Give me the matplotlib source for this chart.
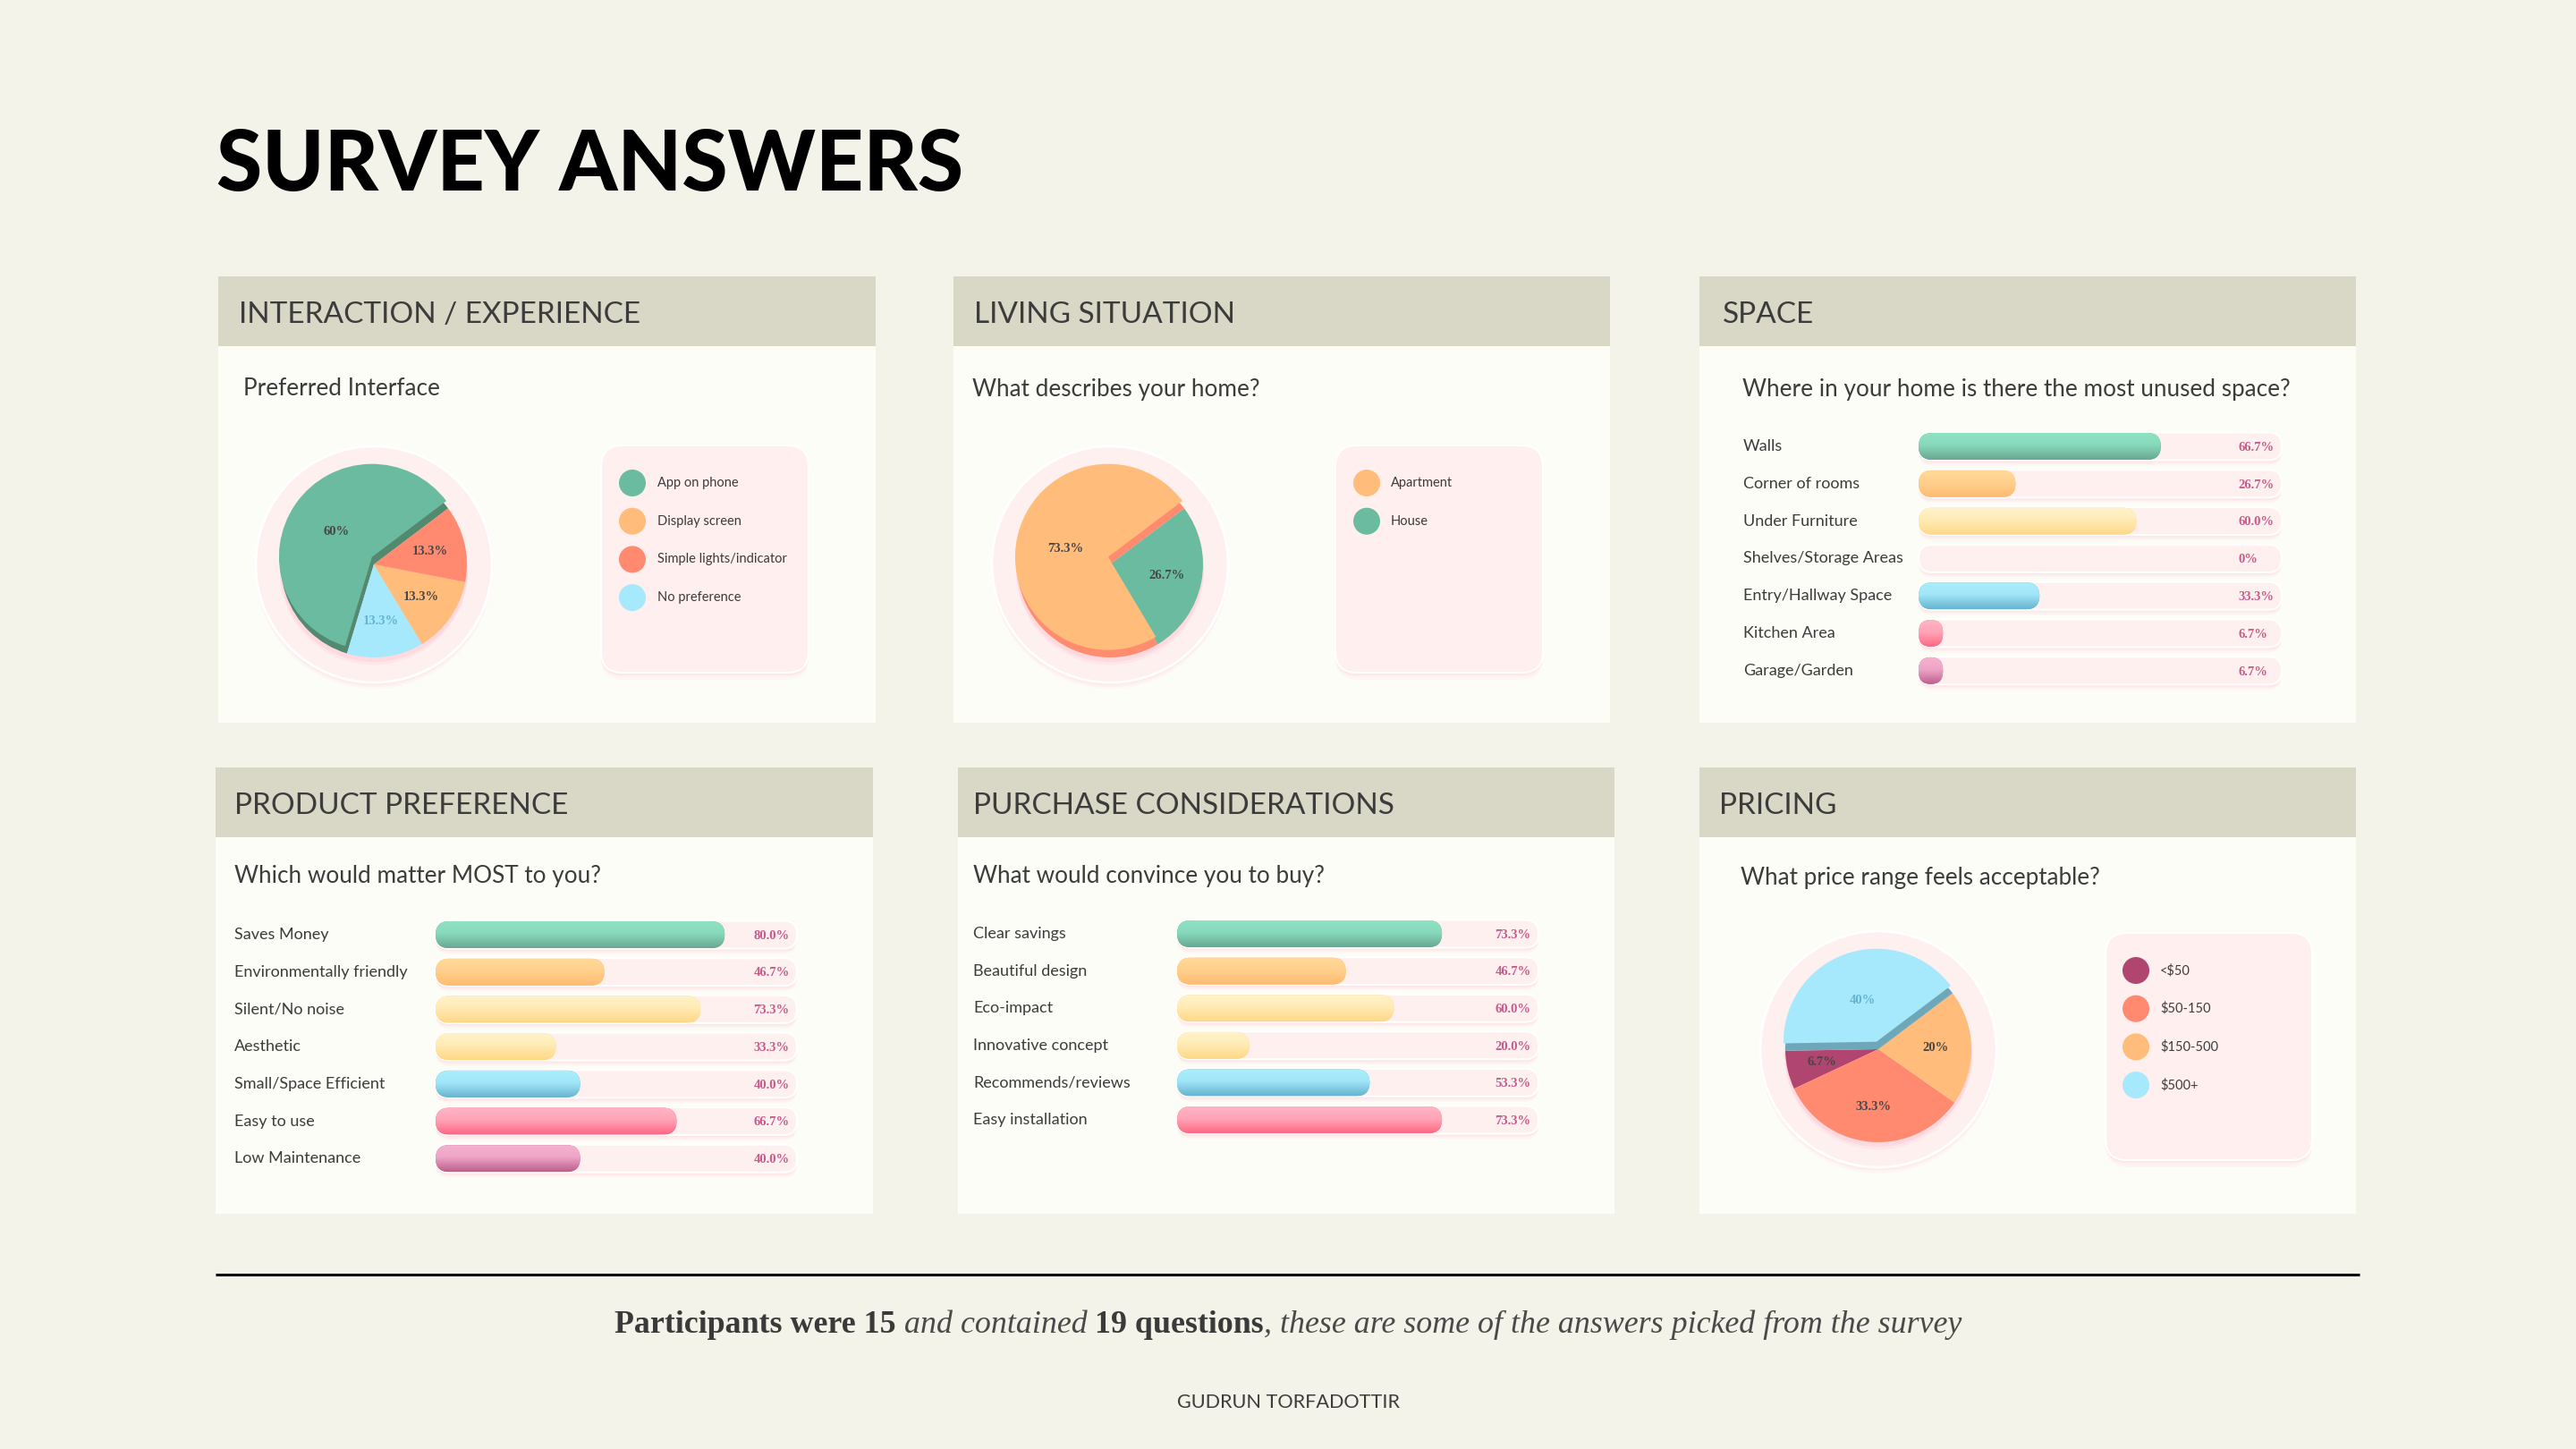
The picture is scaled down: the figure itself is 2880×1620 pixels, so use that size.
import numpy as np
import matplotlib
matplotlib.use('Agg')
import matplotlib.pyplot as plt
from matplotlib import transforms
from matplotlib.colors import LinearSegmentedColormap
from matplotlib.patches import Rectangle, Circle, Wedge, FancyBboxPatch

W, H = 2880, 1620

# ---- survey data ----
interface_labels = ['App on phone', 'Display screen', 'Simple lights/indicator', 'No preference']
interface_values = [60, 13.3, 13.3, 13.3]

home_labels = ['Apartment', 'House']
home_values = [73.3, 26.7]

space_labels = ['Walls', 'Corner of rooms', 'Under Furniture', 'Shelves/Storage Areas',
                'Entry/Hallway Space', 'Kitchen Area', 'Garage/Garden']
space_values = [66.7, 26.7, 60.0, 0, 33.3, 6.7, 6.7]

product_labels = ['Saves Money', 'Environmentally friendly', 'Silent/No noise', 'Aesthetic',
                  'Small/Space Efficient', 'Easy to use', 'Low Maintenance']
product_values = [80.0, 46.7, 73.3, 33.3, 40.0, 66.7, 40.0]

purchase_labels = ['Clear savings', 'Beautiful design', 'Eco-impact', 'Innovative concept',
                   'Recommends/reviews', 'Easy installation']
purchase_values = [73.3, 46.7, 60.0, 20.0, 53.3, 73.3]

price_labels = ['<$50', '$50-150', '$150-500', '$500+']
price_values = [6.7, 33.3, 20, 40]

# ---- style ----
BG = '#f4f3e9'
PANEL = '#fdfdf7'
HEAD = '#d9d8c6'
INK = '#3c3c3c'
GREEN, ORANGE, SALMON, SKY, PLUM = '#6bbba0', '#ffbc7a', '#ff8a70', '#a6e9fc', '#b0456f'
SANS = 'Lato'
SERIF = 'Liberation Serif'

BAR_SHADES = {
    'green': ['#90e2c5', '#86d9bb', '#6aa893'],
    'orange': ['#ffd99a', '#ffd08c', '#ffbb72'],
    'yellow': ['#fff2c9', '#ffebb5', '#ffd886'],
    'blue': ['#aaeefd', '#a0e6f8', '#68b5d0'],
    'pink': ['#ffb4c4', '#ffa5b8', '#ff6884'],
    'magenta': ['#f5b2d0', '#eea4c6', '#bd5f8c'],
}
BAR_ORDER = ['green', 'orange', 'yellow', 'yellow', 'blue', 'pink', 'magenta']

fig = plt.figure(figsize=(W / 100, H / 100), dpi=100, facecolor=BG)
bg = fig.add_axes([0, 0, 1, 1])
bg.set_xlim(0, W)
bg.set_ylim(H, 0)
bg.axis('off')


def px_axes(x0, y0, x1, y1):
    return fig.add_axes([x0 / W, 1 - y1 / H, (x1 - x0) / W, (y1 - y0) / H])


# title
bg.text(242, 186, 'SURVEY ANSWERS', fontsize=67, fontweight='black', family=SANS,
        color='black', va='center', ha='left')

# panels: x0, y0, x1, y1, header, header text x, question, question x, question y offset
panels = [
    (244, 309, 979, 808, 'INTERACTION / EXPERIENCE', 267, 'Preferred Interface', 272, 126),
    (1066, 309, 1800, 808, 'LIVING SITUATION', 1089, 'What describes your home?', 1087, 126),
    (1900, 309, 2634, 808, 'SPACE', 1926, 'Where in your home is there the most unused space?', 1948, 126),
    (241, 858, 976, 1357, 'PRODUCT PREFERENCE', 262, 'Which would matter MOST to you?', 262, 122),
    (1071, 858, 1805, 1357, 'PURCHASE CONSIDERATIONS', 1088, 'What would convince you to buy?', 1088, 122),
    (1900, 858, 2634, 1357, 'PRICING', 1922, 'What price range feels acceptable?', 1946, 123),
]
for x0, y0, x1, y1, head, hx, quest, qx, qdy in panels:
    bg.add_patch(Rectangle((x0, y0), x1 - x0, y1 - y0, fc=PANEL, ec='none'))
    bg.add_patch(Rectangle((x0, y0), x1 - x0, 78, fc=HEAD, ec='none'))
    bg.text(hx, y0 + 43, head, fontsize=24, family=SANS, color=INK, va='center')
    bg.text(qx, y0 + qdy, quest, fontsize=18.8, family=SANS, color=INK, va='center')


def pie_chart(cx, cy, values, colors, order, start, raised, side_color):
    r_px, half = 104, 142
    ax = px_axes(cx - half, cy - half, cx + half, cy + half)
    lim = half / r_px
    # halo ring with a soft pink shadow
    for dy, a in [(0.07, 0.08), (0.05, 0.10), (0.03, 0.14)]:
        ax.add_patch(Circle((0, -dy), 1.27, color='#ffc3d2', alpha=a, lw=0))
    ax.add_patch(Circle((0, 0), 1.27, fc='#fff0f0', ec='white', lw=2))
    for dy, a in [(0.07, 0.15), (0.04, 0.25)]:
        ax.add_patch(Circle((0, -dy), 1.01, color='#ffb3c6', alpha=a, lw=0))
    vals = [values[i] for i in order]
    cols = [colors[i] for i in order]
    wedges, _ = ax.pie(vals, colors=cols, startangle=start, counterclock=True,
                       radius=1, wedgeprops=dict(lw=0))
    shift = np.array([-0.02, 0.08])
    for w, v, c, idx in zip(wedges, vals, cols, order):
        mid = np.deg2rad((w.theta1 + w.theta2) / 2)
        dist = 0.62
        pos = np.array([np.cos(mid), np.sin(mid)])
        if idx == raised:
            w.set_facecolor(side_color)
            ax.add_patch(Wedge(tuple(shift), 1, w.theta1, w.theta2, fc=c, lw=0))
            dist = 0.47
            pos = pos * dist + shift
        else:
            pos = pos * dist
        tc = '#62b3d1' if c == SKY else '#474747'
        ax.text(pos[0], pos[1], f'{v:g}%', ha='center', va='center', fontsize=10.5,
                fontweight='bold', family=SERIF, color=tc, zorder=5)
    ax.set_xlim(-lim, lim)
    ax.set_ylim(-lim, lim)
    ax.set_aspect('equal')
    ax.axis('off')


def legend_box(x0, y0, x1, y1, labels, colors, dot_x, text_x, row_y0):
    for dy, a in [(8, 0.10), (5, 0.15), (3, 0.2)]:
        bg.add_patch(FancyBboxPatch((x0, y0 + dy), x1 - x0, y1 - y0,
                                    boxstyle='round,pad=0,rounding_size=24',
                                    fc='#ffc9d6', ec='none', alpha=a))
    bg.add_patch(FancyBboxPatch((x0, y0), x1 - x0, y1 - y0,
                                boxstyle='round,pad=0,rounding_size=24',
                                fc='#ffefee', ec='white', lw=1.5))
    for k, (lab, col) in enumerate(zip(labels, colors)):
        y = row_y0 + 42.7 * k
        bg.add_patch(Circle((dot_x, y), 15, fc=col, ec='none'))
        bg.text(text_x, y, lab, fontsize=10.5, family=SANS, color=INK, va='center')


def bar_chart(x0, x1, y_first, step, labels, values, label_x):
    n = len(values)
    ax = px_axes(x0, y_first - step / 2, x1, y_first + step * (n - 0.5))
    ux = 100 / (x1 - x0)
    uy = 1 / step
    asp = uy / ux
    h, ht, r = 30 * uy, 31 * uy, 15 * ux
    lab_tr = transforms.blended_transform_factory(bg.transData, ax.transData)
    grad = np.linspace(0, 1, 64).reshape(-1, 1)
    for i, (lab, v) in enumerate(zip(labels, values)):
        for dy, a in [(6, 0.12), (4, 0.2), (2, 0.3)]:
            ax.add_patch(FancyBboxPatch((0, i - ht / 2 + dy * uy), 100, ht,
                                        boxstyle=f'round,pad=0,rounding_size={r}',
                                        mutation_aspect=asp, fc='#ffcbd8', ec='none',
                                        alpha=a, clip_on=False))
        ax.add_patch(FancyBboxPatch((0, i - ht / 2), 100, ht,
                                    boxstyle=f'round,pad=0,rounding_size={r}',
                                    mutation_aspect=asp, fc='#fff0f0', ec='white',
                                    lw=1.5, clip_on=False))
        if v > 0:
            shades = BAR_SHADES[BAR_ORDER[i]]
            cap = FancyBboxPatch((0, i - h / 2), v, h,
                                 boxstyle=f'round,pad=0,rounding_size={min(r, v / 2)}',
                                 mutation_aspect=asp, fc=shades[2], ec='none',
                                 clip_on=False, zorder=2)
            ax.add_patch(cap)
            cmap = LinearSegmentedColormap.from_list('g', [(0, shades[0]), (0.45, shades[1]),
                                                           (1, shades[2])])
            im = ax.imshow(grad, cmap=cmap, extent=(0, v, i + h / 2, i - h / 2),
                           aspect='auto', interpolation='bilinear', zorder=3)
            im.set_clip_path(cap)
        txt = f'{v:.1f}%' if v else '0%'
        ax.text(88, i + 0.03, txt, fontsize=10.5, family=SERIF, fontweight='bold',
                color='#c65a8a', va='center', ha='left', zorder=4)
        ax.text(label_x, i, lab, transform=lab_tr, fontsize=13, family=SANS,
                color=INK, va='center', ha='left')
    ax.set_xlim(0, 100)
    ax.set_ylim(n - 0.5, -0.5)
    ax.axis('off')


# pies
pie_chart(418, 631, interface_values, [GREEN, ORANGE, SALMON, SKY], [0, 3, 1, 2], 37, 0, '#53896f')
legend_box(672, 498, 904, 752, interface_labels, [GREEN, ORANGE, SALMON, SKY], 707, 735, 540)

pie_chart(1241, 631, home_values, [ORANGE, GREEN], [0, 1], 37, 0, '#ff8c6e')
legend_box(1493, 498, 1725, 752, home_labels, [ORANGE, GREEN], 1528, 1555, 540)

pie_chart(2100, 1173, price_values, [PLUM, SALMON, ORANGE, SKY], [0, 1, 2, 3], 181, 3, '#6ea8b8')
legend_box(2354, 1043, 2585, 1297, price_labels, [PLUM, SALMON, ORANGE, SKY], 2388, 2415, 1085)

# bars
bar_chart(2145, 2551, 499, 41.8, space_labels, space_values, 1949)
bar_chart(487, 891, 1045, 41.7, product_labels, product_values, 262)
bar_chart(1316, 1720, 1044, 41.6, purchase_labels, purchase_values, 1088)

# footer
bg.plot([241, 2638], [1425, 1425], color='black', lw=2.2, solid_capstyle='butt')
parts = [('Participants were 15', 'bold', 'normal', '#3a3a3a'),
         (' and contained ', 'normal', 'italic', '#4a4a4a'),
         ('19 questions', 'bold', 'normal', '#3a3a3a'),
         (', these are some of the answers picked from the survey', 'normal', 'italic', '#4a4a4a')]
renderer = fig.canvas.get_renderer()
texts = []
for s, wt, st, col in parts:
    t = bg.text(0, 1481, s, fontsize=25.8, family=SERIF, fontweight=wt, fontstyle=st,
                color=col, va='center', ha='left')
    texts.append(t)
widths = [t.get_window_extent(renderer).width for t in texts]
x = 1440 - sum(widths) / 2
for t, w in zip(texts, widths):
    t.set_x(x)
    x += w

bg.text(1440, 1568, 'GUDRUN TORFADOTTIR', fontsize=15.6, family=SANS, color=INK,
        ha='center', va='center')

fig.savefig('out.png', dpi=100, facecolor=BG)
